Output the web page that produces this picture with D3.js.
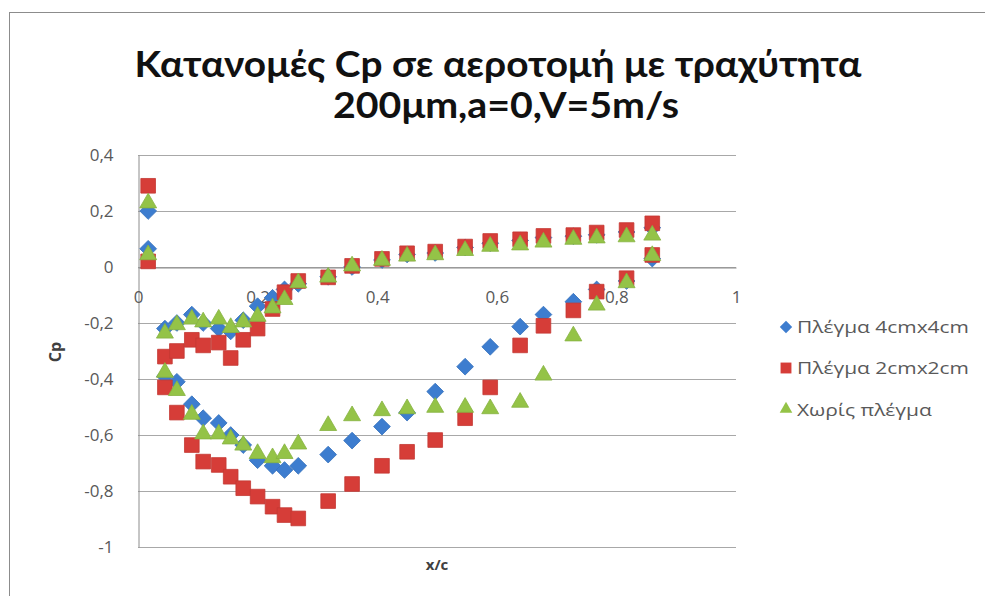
<!DOCTYPE html>
<html>
<head>
<meta charset="utf-8">
<script src="https://cdn.jsdelivr.net/npm/d3@7"></script>
<style>
  html, body { margin: 0; padding: 0; background: #ffffff; }
  svg { display: block; }
</style>
</head>
<body>
<svg id="chart" width="985" height="596"></svg>
<script>
// ---------- DATA ----------
const titleLines = ["Κατανομές Cp σε αεροτομή με τραχύτητα", "200μm,a=0,V=5m/s"];
const xAxisTitle = "x/c";
const yAxisTitle = "Cp";
const seriesNames = ["Πλέγμα 4cmx4cm", "Πλέγμα 2cmx2cm", "Χωρίς πλέγμα"];

const xTicks = [0, 0.2, 0.4, 0.6, 0.8, 1];
const xTickLabels = ["0", "0,2", "0,4", "0,6", "0,8", "1"];
const yTicks = [0.4, 0.2, 0, -0.2, -0.4, -0.6, -0.8, -1];
const yTickLabels = ["0,4", "0,2", "0", "-0,2", "-0,4", "-0,6", "-0,8", "-1"];

// pressure-tap stations (x/c), shared by both surfaces
const xStations = [0.017, 0.045, 0.065, 0.09, 0.109, 0.135, 0.155, 0.176, 0.2, 0.225, 0.245, 0.268,
                   0.318, 0.358, 0.408, 0.45, 0.497, 0.547, 0.589, 0.639, 0.678, 0.728, 0.767, 0.817, 0.86];

// Πλέγμα 4cmx4cm
const blueSurfA = [0.2, -0.22, -0.2, -0.17, -0.2, -0.22, -0.23, -0.19, -0.14, -0.11, -0.08, -0.06,
                   -0.035, 0.0, 0.025, 0.045, 0.05, 0.07, 0.085, 0.095, 0.105, 0.11, 0.115, 0.125, 0.14];
const blueSurfB = [0.065, -0.39, -0.41, -0.49, -0.54, -0.557, -0.6, -0.636, -0.69, -0.71, -0.725, -0.71,
                   -0.67, -0.62, -0.57, -0.52, -0.445, -0.356, -0.285, -0.213, -0.17, -0.124, -0.08, -0.05, 0.03];
// Πλέγμα 2cmx2cm
const redSurfA = [0.29, -0.32, -0.3, -0.26, -0.28, -0.27, -0.325, -0.26, -0.22, -0.15, -0.09, -0.05,
                  -0.037, 0.004, 0.029, 0.049, 0.055, 0.073, 0.093, 0.099, 0.111, 0.114, 0.123, 0.132, 0.156];
const redSurfB = [0.02, -0.43, -0.52, -0.636, -0.695, -0.707, -0.749, -0.79, -0.82, -0.856, -0.886, -0.898,
                  -0.836, -0.775, -0.71, -0.66, -0.618, -0.54, -0.43, -0.28, -0.21, -0.155, -0.088, -0.04, 0.043];
// Χωρίς πλέγμα
const greenSurfA = [0.225, -0.24, -0.21, -0.19, -0.2, -0.19, -0.22, -0.2, -0.18, -0.15, -0.12, -0.06,
                    -0.04, 0.0, 0.02, 0.035, 0.04, 0.055, 0.07, 0.075, 0.085, 0.095, 0.1, 0.104, 0.11];
const greenSurfB = [0.04, -0.38, -0.445, -0.53, -0.6, -0.6, -0.618, -0.64, -0.67, -0.685, -0.67, -0.636,
                    -0.57, -0.535, -0.517, -0.51, -0.505, -0.505, -0.51, -0.487, -0.39, -0.25, -0.14, -0.06, 0.037];

const seriesColors = ["#3d7dcf", "#d63d38", "#94c347"];

// ---------- BUILD ----------
const series = [
  { name: seriesNames[0], color: seriesColors[0], shape: "diamond", a: blueSurfA, b: blueSurfB },
  { name: seriesNames[1], color: seriesColors[1], shape: "square", a: redSurfA, b: redSurfB },
  { name: seriesNames[2], color: seriesColors[2], shape: "triangle", a: greenSurfA, b: greenSurfB }
].map(s => ({
  ...s,
  points: xStations.map((x, i) => ({ x, y: s.a[i] })).concat(xStations.map((x, i) => ({ x, y: s.b[i] })))
}));

const svg = d3.select("#chart");
const font = "'Open Sans', 'Noto Sans', sans-serif";

function stretch(sel, factor) {
  sel.each(function () {
    const n = this.getComputedTextLength();
    d3.select(this).attr("textLength", n * factor).attr("lengthAdjust", "spacingAndGlyphs");
  });
}

// outer frame
svg.append("rect").attr("x", 9.5).attr("y", 12.5).attr("width", 1000).attr("height", 1000)
  .attr("fill", "#ffffff").attr("stroke", "#8c8c8c").attr("stroke-width", 1);

const x = d3.scaleLinear().domain([0, 1]).range([138, 736]);
const y = d3.scaleLinear().domain([-1, 0.4]).range([547, 155]);

// gridlines
svg.append("g").selectAll("line").data(yTicks).join("line")
  .attr("x1", x(0)).attr("x2", x(1))
  .attr("y1", d => Math.round(y(d)) + 0.5).attr("y2", d => Math.round(y(d)) + 0.5)
  .attr("stroke", "#a8a8a8").attr("stroke-width", 1);

// y axis
const yAxis = svg.append("g").attr("transform", `translate(${x(0) + 0.5},0)`)
  .call(d3.axisLeft(y).tickValues(yTicks).tickFormat((d, i) => yTickLabels[i]).tickSize(0).tickPadding(25));
yAxis.select(".domain").attr("stroke", "#8c8c8c");
yAxis.selectAll("text").attr("font-family", font).attr("font-size", 17).attr("fill", "#595959");

// x axis (crosses at y=0)
const xAxis = svg.append("g").attr("transform", `translate(0,${Math.round(y(0)) + 0.5})`)
  .call(d3.axisBottom(x).tickValues(xTicks).tickFormat((d, i) => xTickLabels[i]).tickSize(0).tickPadding(23));
xAxis.select(".domain").attr("stroke", "#8c8c8c");
xAxis.selectAll("text").attr("font-family", font).attr("font-size", 17).attr("fill", "#595959");

// marker generators
function markerPath(shape, scale) {
  if (shape === "diamond") return d3.symbol().type(d3.symbolSquare).size(140 * scale)();
  if (shape === "square") return d3.symbol().type(d3.symbolSquare).size(215 * scale)();
  return d3.symbol().type(d3.symbolTriangle).size(125 * scale)();
}
function markerTransform(shape, px, py) {
  if (shape === "diamond") return `translate(${px},${py}) rotate(45)`;
  if (shape === "triangle") return `translate(${px},${py - 1})`;
  return `translate(${px},${py})`;
}

// points
series.forEach(s => {
  svg.append("g").selectAll("path").data(s.points).join("path")
    .attr("d", markerPath(s.shape, 1))
    .attr("transform", d => markerTransform(s.shape, x(d.x), y(d.y)))
    .attr("fill", s.color)
    .attr("stroke", d3.color(s.color).darker(0.25))
    .attr("stroke-width", 0.8);
});

// title
const title = svg.append("g").attr("font-family", "Lato, 'Open Sans', sans-serif")
  .attr("font-weight", "bold").attr("font-size", 37).attr("fill", "#111111").attr("text-anchor", "middle");
title.append("text").attr("x", 498).attr("y", 77).text(titleLines[0])
  .attr("textLength", 727).attr("lengthAdjust", "spacingAndGlyphs");
title.append("text").attr("x", 506).attr("y", 118).text(titleLines[1])
  .attr("textLength", 346).attr("lengthAdjust", "spacingAndGlyphs");

// axis titles
svg.append("text").attr("x", 437).attr("y", 570).attr("text-anchor", "middle")
  .attr("font-family", font).attr("font-weight", "bold").attr("font-size", 15).attr("fill", "#404040")
  .text(xAxisTitle);
svg.append("text").attr("transform", "translate(61,352) rotate(-90)").attr("text-anchor", "middle")
  .attr("font-family", font).attr("font-weight", "bold").attr("font-size", 16).attr("fill", "#404040")
  .text(yAxisTitle);

// legend
const legendY = [327, 368, 410];
const legend = svg.append("g");
series.forEach((s, i) => {
  const g = legend.append("g");
  g.append("path").attr("d", markerPath(s.shape, 0.55))
    .attr("transform", markerTransform(s.shape, 786, legendY[i]))
    .attr("fill", s.color);
  g.append("text").attr("x", 797).attr("y", legendY[i]).attr("dy", "0.35em")
    .attr("font-family", font).attr("font-size", 16).attr("fill", "#595959")
    .text(s.name);
});
{
  const texts = legend.selectAll("text");
  const f = 172 / texts.filter((d, i) => i === 0).node().getComputedTextLength();
  stretch(texts, f);
}
</script>
</body>
</html>
